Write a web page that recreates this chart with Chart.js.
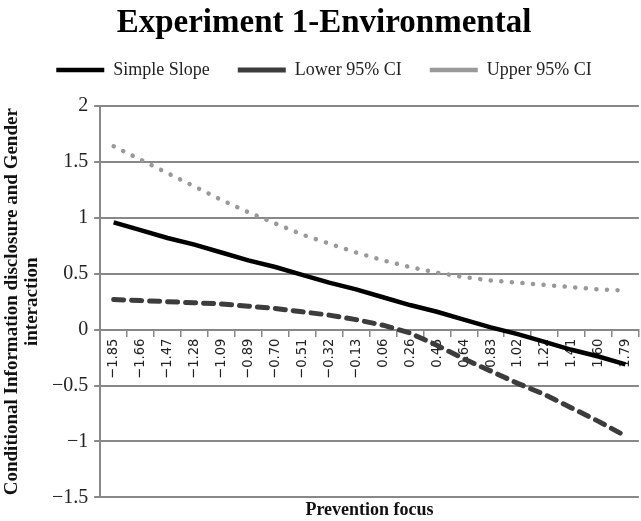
<!DOCTYPE html>
<html>
<head>
<meta charset="utf-8">
<script src="https://cdn.jsdelivr.net/npm/chart.js@4/dist/chart.umd.min.js"></script>
<style>
  html, body { margin: 0; padding: 0; background: #fff; overflow: hidden; }
  /* the original plot runs a few pixels past the right edge of the picture */
  #wrap { width: 646px; height: 521px; }
</style>
</head>
<body>
<div id="wrap"><canvas id="ChartCanvas"></canvas></div>
<script>
// prevention focus values (category labels)
const focusLabels = ['-1.85', '-1.66', '-1.47', '-1.28', '-1.09', '-0.89', '-0.70', '-0.51', '-0.32', '-0.13',
  '0.06', '0.26', '0.45', '0.64', '0.83', '1.02', '1.22', '1.41', '1.60', '1.79'];

// conditional effect
const simpleSlope = [0.96, 0.89, 0.82, 0.76, 0.69, 0.62, 0.56, 0.49, 0.42, 0.36,
  0.29, 0.22, 0.16, 0.09, 0.02, -0.04, -0.11, -0.18, -0.24, -0.31];
const lowerCI = [0.27, 0.26, 0.25, 0.24, 0.23, 0.21, 0.19, 0.16, 0.13, 0.09,
  0.04, -0.03, -0.14, -0.26, -0.37, -0.48, -0.58, -0.70, -0.82, -0.95];
const upperCI = [1.64, 1.52, 1.40, 1.28, 1.16, 1.05, 0.95, 0.85, 0.77, 0.69,
  0.62, 0.56, 0.51, 0.47, 0.44, 0.42, 0.40, 0.38, 0.36, 0.35];

const yTicks = [-1.5, -1, -0.5, 0, 0.5, 1, 1.5, 2];

const minus = s => String(s).replace('-', '\u2212');

let chart;

/**
 * Leaves some room between the legend and the plot, like the original.
 */
const legendGap = {
  id: 'legendGap',
  beforeInit: chart => {
    const fitLegend = chart.legend.fit;
    chart.legend.fit = function () {
      fitLegend.bind(chart.legend)();
      this.height += 17;
    };
  }
};

function initChart() {
  const ctx = document.getElementById('ChartCanvas');

  chart = new Chart(ctx, {
    type: 'line',
    data: {
      labels: focusLabels,
      datasets: [{
        label: 'Simple Slope',
        data: simpleSlope,
        borderColor: '#000000',
        backgroundColor: '#000000',
        borderWidth: 4.5,
        pointRadius: 0,
      }, {
        label: 'Lower 95% CI',
        data: lowerCI,
        borderColor: '#3c3c3c',
        backgroundColor: '#3c3c3c',
        borderWidth: 5,
        borderDash: [10, 8],
        borderCapStyle: 'round',
        pointRadius: 0,
      }, {
        label: 'Upper 95% CI',
        data: upperCI,
        borderColor: '#999999',
        backgroundColor: '#999999',
        borderWidth: 4.5,
        borderDash: [0.1, 10.5],
        borderCapStyle: 'round',
        pointRadius: 0,
      }]
    },
    options: {
      animation: false,
      responsive: true,
      maintainAspectRatio: false,
      layout: { padding: { left: 2, right: 0, top: 0, bottom: 0 } },
      scales: {
        x: {
          type: 'category',
          position: { y: 0 },
          offset: true,
          grid: {
            offset: true,
            drawOnChartArea: false,
            drawTicks: true,
            tickLength: 6,
            color: '#888888',
            lineWidth: 1.5,
          },
          border: { color: '#888888', width: 2 },
          ticks: {
            autoSkip: false,
            maxRotation: 90,
            minRotation: 90,
            padding: 3,
            color: '#222222',
            font: { family: "'DejaVu Sans Condensed', 'DejaVu Sans'", size: 14.5 },
            callback: function (v, i) { return minus(focusLabels[i]); }
          }
        },
        // only carries the axis title under the plot
        xTitle: {
          type: 'category',
          position: 'bottom',
          offset: true,
          grid: { display: false, drawTicks: false },
          border: { display: false },
          ticks: { display: false },
          title: {
            display: true,
            text: 'Prevention focus',
            color: '#111111',
            font: { family: 'Liberation Serif', size: 18, weight: 'bold', lineHeight: 1.2 },
            padding: { top: 2, bottom: 0 }
          }
        },
        y: {
          min: -1.5,
          max: 2,
          afterBuildTicks: axis => { axis.ticks = yTicks.map(v => ({ value: v })); },
          grid: {
            color: '#888888',
            lineWidth: 2,
            tickLength: 6,
          },
          border: { color: '#888888', width: 2 },
          ticks: {
            padding: 6,
            color: '#222222',
            font: { family: 'Liberation Serif', size: 20 },
            callback: v => minus(v)
          },
          title: {
            display: true,
            text: ['Conditional Information disclosure and Gender', 'interaction'],
            color: '#111111',
            font: { family: 'Liberation Serif', size: 19, weight: 'bold', lineHeight: 1.05 },
            padding: { top: 0, bottom: 4 }
          }
        }
      },
      plugins: {
        title: {
          display: true,
          text: 'Experiment 1-Environmental',
          color: '#000000',
          font: { family: 'Liberation Serif', size: 33, weight: 'bold' },
          padding: { top: 4, bottom: -10.6 }
        },
        legend: {
          position: 'top',
          labels: {
            usePointStyle: true,
            pointStyle: 'line',
            pointStyleWidth: 48,
            boxHeight: 4,
            padding: 28,
            color: '#222222',
            font: { family: 'Liberation Serif', size: 18 }
          }
        },
        tooltip: { enabled: false }
      }
    },
    plugins: [legendGap],
  });
}

initChart();
</script>
</body>
</html>
